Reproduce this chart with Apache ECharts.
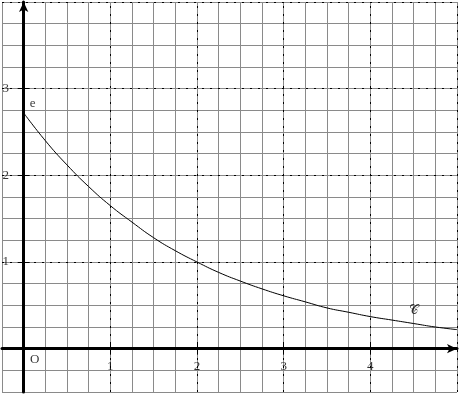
<!DOCTYPE html>
<html><head><meta charset="utf-8">
<script src="https://cdn.jsdelivr.net/npm/echarts@6/dist/echarts.min.js"></script>
<style>html,body{margin:0;padding:0;background:#fff}#c{width:460px;height:395px}</style>
</head><body><div id="c"></div>
<script>
// Values
const curveX = [0, 0.25, 0.5, 0.75, 1, 1.25, 1.5, 1.75, 2, 2.25, 2.5, 2.75, 3, 3.25, 3.5, 3.75, 4, 4.25, 4.5, 4.75, 5];
const curveY = [2.72, 2.40, 2.12, 1.87, 1.65, 1.46, 1.28, 1.13, 1.00, 0.88, 0.78, 0.69, 0.61, 0.54, 0.47, 0.42, 0.37, 0.33, 0.29, 0.25, 0.22];
const xTickLabels = [1, 2, 3, 4];
const yTickLabels = [1, 2, 3];
const xMajor = [1, 2, 3, 4, 5];
const yMajor = [1, 2, 3, 4];
const annotations = [
  { name: 'O', x: 0, y: 0 },
  { name: 'e', x: 0, y: 2.72 },
  { name: '\u{1D49E}', x: 4.5, y: 0.42 }
];

const serif = '"Liberation Serif", "DejaVu Serif", serif';
const chart = echarts.init(document.getElementById('c'));
const curve = curveX.map((x, i) => [x, curveY[i]]);
const X_MIN = -0.25, X_MAX = 5, Y_MIN = -0.5, Y_MAX = 4;
const W = 460 - 2 - 3, H = 395 - 2 - 3;
const tx = 6 * (X_MAX - X_MIN) / W; // 6px in x units
const ty = 6 * (Y_MAX - Y_MIN) / H; // 6px in y units

const tickSegs = xTickLabels.map(v => [{ coord: [v, -ty] }, { coord: [v, ty] }])
  .concat(yTickLabels.map(v => [{ coord: [-tx, v] }, { coord: [tx, v] }]));

chart.setOption({
  animation: false,
  grid: { left: 2, right: 3, top: 2, bottom: 3, containLabel: false, outerBoundsMode: 'none' },
  xAxis: {
    type: 'value', min: X_MIN, max: X_MAX, interval: 0.25,
    axisLine: { onZero: true, lineStyle: { color: '#000', width: 3 }, symbol: ['none', 'arrow'], symbolSize: [7, 10] },
    axisTick: { show: false },
    axisLabel: { show: false },
    splitLine: { show: true, lineStyle: { color: '#8a8a8a', width: 1 } }
  },
  yAxis: {
    type: 'value', min: Y_MIN, max: Y_MAX, interval: 0.25,
    axisLine: { onZero: true, lineStyle: { color: '#000', width: 3 }, symbol: ['none', 'arrow'], symbolSize: [7, 10] },
    axisTick: { show: false },
    axisLabel: { show: false },
    splitLine: { show: true, lineStyle: { color: '#8a8a8a', width: 1 } }
  },
  series: [
    {
      type: 'line', data: [], silent: true,
      markLine: {
        silent: true, symbol: 'none', label: { show: false },
        lineStyle: { color: '#000', width: 1, type: [2, 6] },
        data: xMajor.map(v => ({ xAxis: v })).concat(yMajor.map(v => ({ yAxis: v })))
      }
    },
    {
      type: 'line', data: [], silent: true, z: 7,
      markLine: {
        silent: true, symbol: 'none', label: { show: false },
        lineStyle: { color: '#000', width: 1, type: 'solid' },
        data: tickSegs
      }
    },
    {
      type: 'line', data: curve, smooth: true, showSymbol: false, silent: true,
      lineStyle: { color: '#000', width: 1 }, z: 5
    },
    {
      type: 'scatter', symbolSize: 0, silent: true, z: 6,
      data: xTickLabels.map(v => [v, 0]),
      label: { show: true, formatter: p => String(p.value[0]), color: '#000', fontFamily: serif, fontSize: 13, position: 'inside' },
      labelLayout: () => ({ dy: 18 })
    },
    {
      type: 'scatter', symbolSize: 0, silent: true, z: 6,
      data: yTickLabels.map(v => [0, v]),
      label: { show: true, formatter: p => String(p.value[1]), color: '#000', fontFamily: serif, fontSize: 13, position: 'inside' },
      labelLayout: () => ({ dx: -18 })
    },
    {
      type: 'scatter', symbolSize: 0, silent: true, z: 6,
      data: annotations.map(a => ({ name: a.name, value: [a.x, a.y] })),
      label: {
        show: true, formatter: p => p.name, color: '#000', fontFamily: serif, fontSize: 13,
        position: 'inside'
      },
      labelLayout: function (p) {
        const offs = [[11, 11], [9, -9], [0, -2]];
        const o = offs[p.dataIndex];
        return { dx: o[0], dy: o[1] };
      }
    }
  ]
});
</script></body></html>
